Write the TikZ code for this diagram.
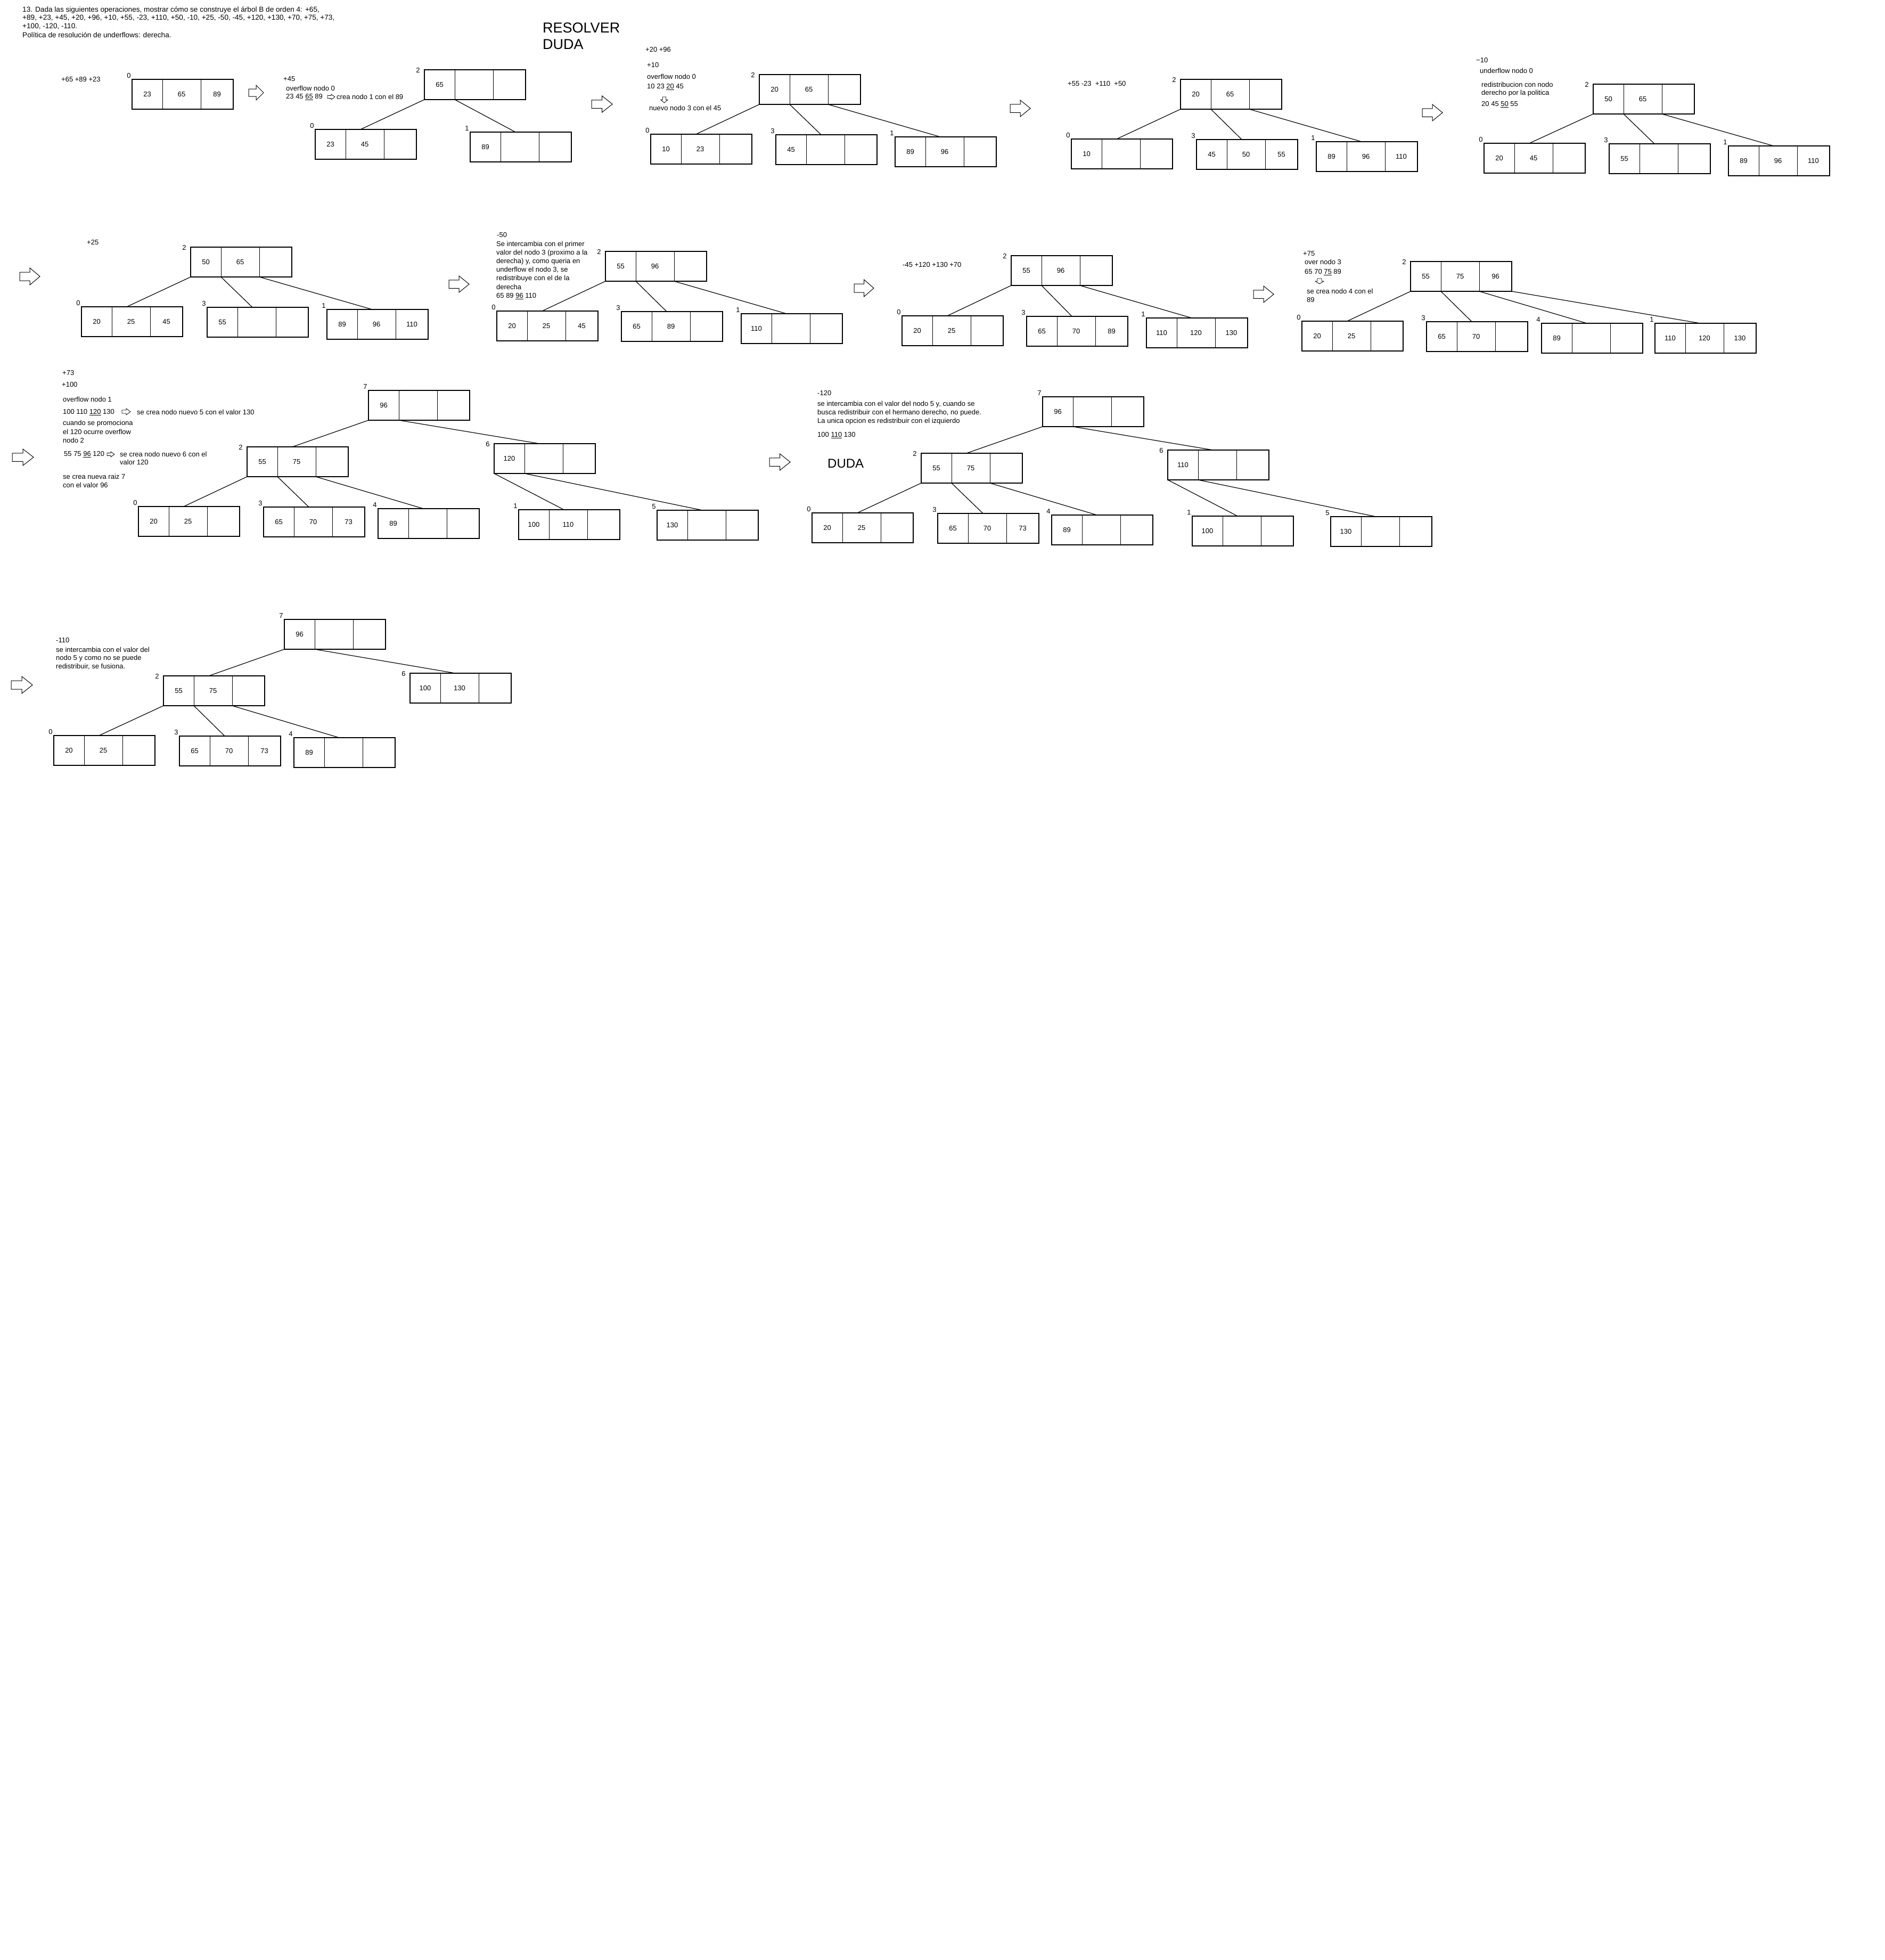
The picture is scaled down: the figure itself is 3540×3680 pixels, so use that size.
\documentclass[tikz,border=0pt]{standalone}
\usepackage{fontspec}
\setmainfont{Liberation Sans}
\usetikzlibrary{calc}
\newcommand\btcore[9]{%
  \node[bbox] (#1) at (#2+95,#3+28) {};
  \coordinate (#1-bl) at (#1.south west);
  \coordinate (#1-d1) at ($(#1.south west)+(57,0)$);
  \coordinate (#1-d2) at ($(#1.south west)+(129,0)$);
  \coordinate (#1-br) at (#1.south east);
  \coordinate (#1-in) at ($(#1.north west)+(85,0)$);
  \draw[div] ($(#1.north west)+(57,0)$) -- (#1-d1);
  \draw[div] ($(#1.north west)+(129,0)$) -- (#1-d2);
  \node[lbl] (#1-lb) at ($(#1.north west)+(#5,#6)$) {#4};
  \ifx\relax#7\relax\else\node[val] (#1-v1) at ($(#1.west)+(28.5,0)$) {#7};\fi
  \ifx\relax#8\relax\else\node[val] (#1-v2) at ($(#1.west)+(93,0)$) {#8};\fi
  \ifx\relax#9\relax\else\node[val] (#1-v3) at ($(#1.west)+(159.5,0)$) {#9};\fi
}
\newcommand\bleaf[7]{\btcore{#1}{#2}{#3}{#4}{-6}{-7}{#5}{#6}{#7}}
\newcommand\binner[7]{\btcore{#1}{#2}{#3}{#4}{-12}{1}{#5}{#6}{#7}}
\newcommand\rarrow[5][blockarrow]{%
  \draw[#1] (#2,{#3+(#5-#3)*0.25}) -- ({(#2+#4)/2},{#3+(#5-#3)*0.25}) -- ({(#2+#4)/2},#3) -- (#4,{(#3+#5)/2}) -- ({(#2+#4)/2},#5) -- ({(#2+#4)/2},{#3+(#5-#3)*0.75}) -- (#2,{#3+(#5-#3)*0.75}) -- cycle;}
\newcommand\darrow[4]{%
  \draw[smallarrow] ({#1+(#3-#1)*0.25},#2) -- ({#1+(#3-#1)*0.75},#2) -- ({#1+(#3-#1)*0.75},{(#2+#4)/2}) -- (#3,{(#2+#4)/2}) -- ({(#1+#3)/2},#4) -- (#1,{(#2+#4)/2}) -- ({#1+(#3-#1)*0.25},{(#2+#4)/2}) -- cycle;}
\begin{document}
\begin{tikzpicture}[x=1pt,y=-1pt,
  bbox/.style={draw,line width=1.5pt,minimum width=190pt,minimum height=56pt,inner sep=0pt,outer sep=0pt},
  val/.style={font=\fontsize{13}{16}\selectfont,inner sep=0pt},
  lbl/.style={font=\fontsize{13}{16}\selectfont,inner sep=0pt},
  txt/.style={font=\fontsize{13}{16}\selectfont,inner sep=0pt,anchor=west},
  head/.style={font=\fontsize{13.6}{16}\selectfont,inner sep=0pt,anchor=west},
  big/.style={font=\fontsize{27}{30}\selectfont,inner sep=0pt,anchor=west},
  div/.style={line width=1pt},
  edge/.style={line width=1.2pt},
  blockarrow/.style={draw,line width=1pt,fill=white,line join=miter},
  smallarrow/.style={draw,line width=0.8pt,fill=white,line join=miter}]
\fill[white] (0,0) rectangle (3540,3680);
\useasboundingbox (0,0) rectangle (3540,3680);

% header
\node[head] (h1) at (42,19) {13. Dada las siguientes operaciones, mostrar cómo se construye el árbol B de orden 4: +65,};
\node[head] (h2) at (42,34) {+89, +23, +45, +20, +96, +10, +55, -23, +110, +50, -10, +25, -50, -45, +120, +130, +70, +75, +73,};
\node[head] (h3) at (42,50) {+100, -120, -110.};
\node[head] (h4) at (42,66) {Política de resolución de underflows: derecha.};
\node[big] (res) at (1019,52) {RESOLVER};
\node[big] (duda1) at (1019,83) {DUDA};

% panel 1
\node[txt] (t1) at (115,149) {+65 +89 +23};
\bleaf{p1a}{248}{149}{0}{23}{65}{89}
\rarrow{467}{160}{495}{188}

% panel 2
\node[txt] (t2) at (532,148) {+45};
\node[txt] (t3) at (537,166) {overflow nodo 0};
\node[txt] (t4) at (537,182) {23 45 \underline{65} 89};
\rarrow[smallarrow]{615}{177}{629}{187}
\node[txt] (t5) at (632,182) {crea nodo 1 con el 89};
\binner{p2r}{797}{131}{2}{65}{}{}
\bleaf{p2a}{592}{243}{0}{23}{45}{}
\bleaf{p2b}{883}{248}{1}{89}{}{}
\draw[edge] (p2r-bl) -- (p2a-in);
\draw[edge] (p2r-d1) -- (p2b-in);
\rarrow{1111}{180}{1150}{211}

% panel 3
\node[txt] (t6) at (1212,93) {+20 +96};
\node[txt] (t7) at (1215,122) {+10};
\node[txt] (t8) at (1215,144) {overflow nodo 0};
\node[txt] (t9) at (1215,163) {10 23 \underline{20} 45};
\darrow{1241}{182}{1254}{193}
\node[txt] (t10) at (1219,203) {nuevo nodo 3 con el 45};
\binner{p3r}{1426}{140}{2}{20}{65}{}
\bleaf{p3a}{1222}{252}{0}{10}{23}{}
\bleaf{p3b}{1457}{253}{3}{45}{}{}
\bleaf{p3c}{1681}{257}{1}{89}{96}{}
\draw[edge] (p3r-bl) -- (p3a-in);
\draw[edge] (p3r-d1) -- (p3b-in);
\draw[edge] (p3r-d2) -- (p3c-in);
\rarrow{1897}{188}{1935}{219}

% panel 4
\node[txt] (t11) at (2005,157) {+55 -23 \ +110 \ +50};
\binner{p4r}{2217}{149}{2}{20}{65}{}
\bleaf{p4a}{2012}{261}{0}{10}{}{}
\bleaf{p4b}{2247}{262}{3}{45}{50}{55}
\bleaf{p4c}{2472}{266}{1}{89}{96}{110}
\draw[edge] (p4r-bl) -- (p4a-in);
\draw[edge] (p4r-d1) -- (p4b-in);
\draw[edge] (p4r-d2) -- (p4c-in);
\rarrow{2671}{196}{2709}{227}

% panel 5
\node[txt] (t12) at (2772,113) {−10};
\node[txt] (t13) at (2779,133) {underflow nodo 0};
\node[txt] (t14) at (2782,159) {redistribucion con nodo};
\node[txt] (t15) at (2782,175) {derecho por la politica};
\node[txt] (t16) at (2782,196) {20 45 \underline{50} 55};
\binner{p5r}{2992}{158}{2}{50}{65}{}
\bleaf{p5a}{2787}{269}{0}{20}{45}{}
\bleaf{p5b}{3022}{270}{3}{55}{}{}
\bleaf{p5c}{3246}{274}{1}{89}{96}{110}
\draw[edge] (p5r-bl) -- (p5a-in);
\draw[edge] (p5r-d1) -- (p5b-in);
\draw[edge] (p5r-d2) -- (p5c-in);

% panel 6
\rarrow{37}{503}{75}{535}
\node[txt] (t17) at (163,455) {+25};
\binner{p6r}{358}{464}{2}{50}{65}{}
\bleaf{p6a}{153}{576}{0}{20}{25}{45}
\bleaf{p6b}{389}{577}{3}{55}{}{}
\bleaf{p6c}{614}{581}{1}{89}{96}{110}
\draw[edge] (p6r-bl) -- (p6a-in);
\draw[edge] (p6r-d1) -- (p6b-in);
\draw[edge] (p6r-d2) -- (p6c-in);
\rarrow{843}{518}{881}{549}

% panel 7
\node[txt] (t18) at (933,441) {-50};
\node[txt] (t19) at (932,459) {Se intercambia con el primer};
\node[txt] (t20) at (932,475) {valor del nodo 3 (proximo a la};
\node[txt] (t21) at (932,491) {derecha) y, como queria en};
\node[txt] (t22) at (932,507) {underflow el nodo 3, se};
\node[txt] (t23) at (932,523) {redistribuye con el de la};
\node[txt] (t24) at (932,539) {derecha};
\node[txt] (t25) at (932,556) {65 89 \underline{96} 110};
\binner{p7r}{1137}{472}{2}{55}{96}{}
\bleaf{p7a}{933}{584}{0}{20}{25}{45}
\bleaf{p7b}{1167}{585}{3}{65}{89}{}
\bleaf{p7c}{1392}{589}{1}{110}{}{}
\draw[edge] (p7r-bl) -- (p7a-in);
\draw[edge] (p7r-d1) -- (p7b-in);
\draw[edge] (p7r-d2) -- (p7c-in);
\rarrow{1604}{525}{1641}{557}

% panel 8
\node[txt] (t26) at (1695,497) {-45 +120 +130 +70};
\binner{p8r}{1899}{480}{2}{55}{96}{}
\bleaf{p8a}{1694}{593}{0}{20}{25}{}
\bleaf{p8b}{1928}{594}{3}{65}{70}{89}
\bleaf{p8c}{2153}{597}{1}{110}{120}{130}
\draw[edge] (p8r-bl) -- (p8a-in);
\draw[edge] (p8r-d1) -- (p8b-in);
\draw[edge] (p8r-d2) -- (p8c-in);
\rarrow{2354}{537}{2392}{568}

% panel 9
\node[txt] (t27) at (2447,476) {+75};
\node[txt] (t28) at (2450,492) {over nodo 3};
\node[txt] (t29) at (2450,511) {65 70 \underline{75} 89};
\darrow{2470}{523}{2486}{533}
\node[txt] (t30) at (2454,547) {se crea nodo 4 con el};
\node[txt] (t31) at (2454,563) {89};
\binner{p9r}{2649}{491}{2}{55}{75}{96}
\bleaf{p9a}{2445}{603}{0}{20}{25}{}
\bleaf{p9b}{2679}{604}{3}{65}{70}{}
\bleaf{p9c}{2895}{607}{4}{89}{}{}
\bleaf{p9d}{3108}{607}{1}{110}{120}{130}
\draw[edge] (p9r-bl) -- (p9a-in);
\draw[edge] (p9r-d1) -- (p9b-in);
\draw[edge] (p9r-d2) -- (p9c-in);
\draw[edge] (p9r-br) -- (p9d-in);

% panel 10
\rarrow{23}{843}{63}{874}
\node[txt] (t32) at (117,700) {+73};
\node[txt] (t33) at (116,722) {+100};
\node[txt] (t34) at (118,750) {overflow nodo 1};
\node[txt] (t35) at (118,774) {100 110 \underline{120} 130};
\rarrow[smallarrow]{229}{767}{245}{779}
\node[txt] (t36) at (257,774) {se crea nodo nuevo 5 con el valor 130};
\node[txt] (t37) at (118,795) {cuando se promociona};
\node[txt] (t38) at (118,811) {el 120 ocurre overflow};
\node[txt] (t39) at (118,827) {nodo 2};
\node[txt] (t40) at (120,853) {55 75 \underline{96} 120};
\rarrow[smallarrow]{201}{848}{215}{858}
\node[txt] (t41) at (225,853) {se crea nodo nuevo 6 con el};
\node[txt] (t42) at (225,868) {valor 120};
\node[txt] (t43) at (118,895) {se crea nueva raiz 7};
\node[txt] (t44) at (118,911) {con el valor 96};
\bleaf{q1r}{692}{733}{7}{96}{}{}
\binner{q1m}{464}{839}{2}{55}{75}{}
\binner{q1n}{928}{833}{6}{120}{}{}
\bleaf{q1a}{260}{951}{0}{20}{25}{}
\bleaf{q1b}{495}{952}{3}{65}{70}{73}
\bleaf{q1c}{710}{955}{4}{89}{}{}
\bleaf{q1d}{974}{957}{1}{100}{110}{}
\bleaf{q1e}{1234}{958}{5}{130}{}{}
\draw[edge] (q1r-bl) -- (q1m-in);
\draw[edge] (q1r-d1) -- (q1n-in);
\draw[edge] (q1m-bl) -- (q1a-in);
\draw[edge] (q1m-d1) -- (q1b-in);
\draw[edge] (q1m-d2) -- (q1c-in);
\draw[edge] (q1n-bl) -- (q1d-in);
\draw[edge] (q1n-d1) -- (q1e-in);
\rarrow{1445}{852}{1484}{883}

% panel 11
\node[txt] (t45) at (1535,738) {-120};
\node[txt] (t46) at (1535,759) {se intercambia con el valor del nodo 5 y, cuando se};
\node[txt] (t47) at (1535,775) {busca redistribuir con el hermano derecho, no puede.};
\node[txt] (t48) at (1535,791) {La unica opcion es redistribuir con el izquierdo};
\node[txt] (t49) at (1535,817) {100 \underline{110} 130};
\node[big,font=\fontsize{24}{28}\selectfont] (duda2) at (1554,870) {DUDA};
\bleaf{q2r}{1958}{745}{7}{96}{}{}
\binner{q2m}{1730}{851}{2}{55}{75}{}
\binner{q2n}{2193}{845}{6}{110}{}{}
\bleaf{q2a}{1525}{963}{0}{20}{25}{}
\bleaf{q2b}{1761}{964}{3}{65}{70}{73}
\bleaf{q2c}{1975}{967}{4}{89}{}{}
\bleaf{q2d}{2239}{969}{1}{100}{}{}
\bleaf{q2e}{2499}{970}{5}{130}{}{}
\draw[edge] (q2r-bl) -- (q2m-in);
\draw[edge] (q2r-d1) -- (q2n-in);
\draw[edge] (q2m-bl) -- (q2a-in);
\draw[edge] (q2m-d1) -- (q2b-in);
\draw[edge] (q2m-d2) -- (q2c-in);
\draw[edge] (q2n-bl) -- (q2d-in);
\draw[edge] (q2n-d1) -- (q2e-in);

% panel 12
\rarrow{21}{1270}{61}{1302}
\node[txt] (t50) at (105,1202) {-110};
\node[txt] (t51) at (105,1220) {se intercambia con el valor del};
\node[txt] (t52) at (105,1236) {nodo 5 y como no se puede};
\node[txt] (t53) at (105,1252) {redistribuir, se fusiona.};
\bleaf{q3r}{534}{1163}{7}{96}{}{}
\binner{q3m}{307}{1269}{2}{55}{75}{}
\binner{q3n}{770}{1264}{6}{100}{130}{}
\bleaf{q3a}{101}{1381}{0}{20}{25}{}
\bleaf{q3b}{337}{1382}{3}{65}{70}{73}
\bleaf{q3c}{552}{1385}{4}{89}{}{}
\draw[edge] (q3r-bl) -- (q3m-in);
\draw[edge] (q3r-d1) -- (q3n-in);
\draw[edge] (q3m-bl) -- (q3a-in);
\draw[edge] (q3m-d1) -- (q3b-in);
\draw[edge] (q3m-d2) -- (q3c-in);
\end{tikzpicture}
\end{document}
